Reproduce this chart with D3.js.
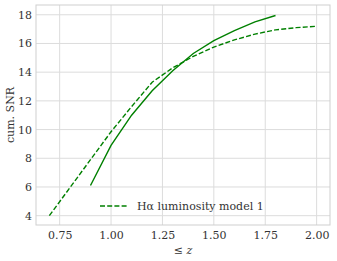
<!doctype html>
<html>
<head>
<script src="https://d3js.org/d3.v7.min.js"></script>
<style>
  body { margin: 0; background: #fff; }
  text { font-family: "DejaVu Serif", serif; fill: #333; }
  .grid line { stroke: #dcdcdc; stroke-width: 1; }
</style>
</head>
<body>
<svg width="337" height="261"></svg>
<script>
// cumulative SNR vs redshift
var zDashed = [0.7, 0.8, 0.9, 1.0, 1.1, 1.2, 1.3, 1.4, 1.5, 1.6, 1.7, 1.8, 1.9, 2.0];
var snrDashed = [4.0, 5.95, 7.9, 9.85, 11.6, 13.3, 14.3, 15.1, 15.75, 16.25, 16.65, 16.95, 17.1, 17.2];
var zSolid = [0.9, 1.0, 1.1, 1.2, 1.3, 1.4, 1.5, 1.6, 1.7, 1.8];
var snrSolid = [6.1, 8.9, 11.0, 12.7, 14.1, 15.3, 16.2, 16.9, 17.5, 17.95];
var xTicks = [0.75, 1.00, 1.25, 1.50, 1.75, 2.00];
var yTicks = [4, 6, 8, 10, 12, 14, 16, 18];
var legendLabel = "H\u03b1 luminosity model 1";

var svg = d3.select("svg");
var mLeft = 36, mRight = 330, mTop = 5, mBottom = 225;
var fontStack = "'DejaVu Serif', serif";

var x = d3.scaleLinear().domain([0.635, 2.065]).range([mLeft, mRight]);
var y = d3.scaleLinear().domain([3.35, 18.68]).range([mBottom, mTop]);

// grid
var grid = svg.append("g").attr("class", "grid");
grid.selectAll(".vx").data(xTicks).enter().append("line")
  .attr("x1", d => x(d)).attr("x2", d => x(d))
  .attr("y1", mTop).attr("y2", mBottom);
grid.selectAll(".hy").data(yTicks).enter().append("line")
  .attr("y1", d => y(d)).attr("y2", d => y(d))
  .attr("x1", mLeft).attr("x2", mRight);

// frame
svg.append("rect")
  .attr("x", mLeft).attr("y", mTop)
  .attr("width", mRight - mLeft).attr("height", mBottom - mTop)
  .attr("fill", "none").attr("stroke", "#cfcfcf").attr("stroke-width", 1);

// axes
var xAxis = d3.axisBottom(x).tickValues(xTicks).tickFormat(d3.format(".2f")).tickSize(0).tickPadding(6);
var gx = svg.append("g").attr("transform", "translate(0," + mBottom + ")").call(xAxis);
gx.select(".domain").remove();
gx.attr("font-family", null).attr("font-size", null);
gx.selectAll("text").style("font-family", fontStack).style("font-size", "11px").attr("fill", "#333");

var yAxis = d3.axisLeft(y).tickValues(yTicks).tickSize(0).tickPadding(4);
var gy = svg.append("g").attr("transform", "translate(" + mLeft + ",0)").call(yAxis);
gy.select(".domain").remove();
gy.attr("font-family", null).attr("font-size", null);
gy.selectAll("text").style("font-family", fontStack).style("font-size", "11px").attr("fill", "#333");

// lines
var line = d3.line().x(d => x(d[0])).y(d => y(d[1]));
svg.append("path")
  .datum(d3.zip(zDashed, snrDashed))
  .attr("d", line)
  .attr("fill", "none").attr("stroke", "#008000").attr("stroke-width", 1.4)
  .attr("stroke-dasharray", "5,2.2");
svg.append("path")
  .datum(d3.zip(zSolid, snrSolid))
  .attr("d", line)
  .attr("fill", "none").attr("stroke", "#008000").attr("stroke-width", 1.4);

// legend
var lg = svg.append("g").attr("transform", "translate(100,206)");
lg.append("line").attr("x1", 0).attr("x2", 28).attr("y1", 0).attr("y2", 0)
  .attr("stroke", "#008000").attr("stroke-width", 1.4).attr("stroke-dasharray", "5,2.2");
lg.append("text").attr("x", 37).attr("y", 4).style("font-size", "11px").text(legendLabel);

// labels
svg.append("text").attr("x", (mLeft + mRight) / 2).attr("y", 254)
  .attr("text-anchor", "middle").style("font-size", "11px")
  .html("\u2264 <tspan font-style='italic'>z</tspan>");
svg.append("text")
  .attr("transform", "translate(14," + ((mTop + mBottom) / 2) + ") rotate(-90)")
  .attr("text-anchor", "middle").style("font-size", "11px")
  .text("cum. SNR");
</script>
</body>
</html>
